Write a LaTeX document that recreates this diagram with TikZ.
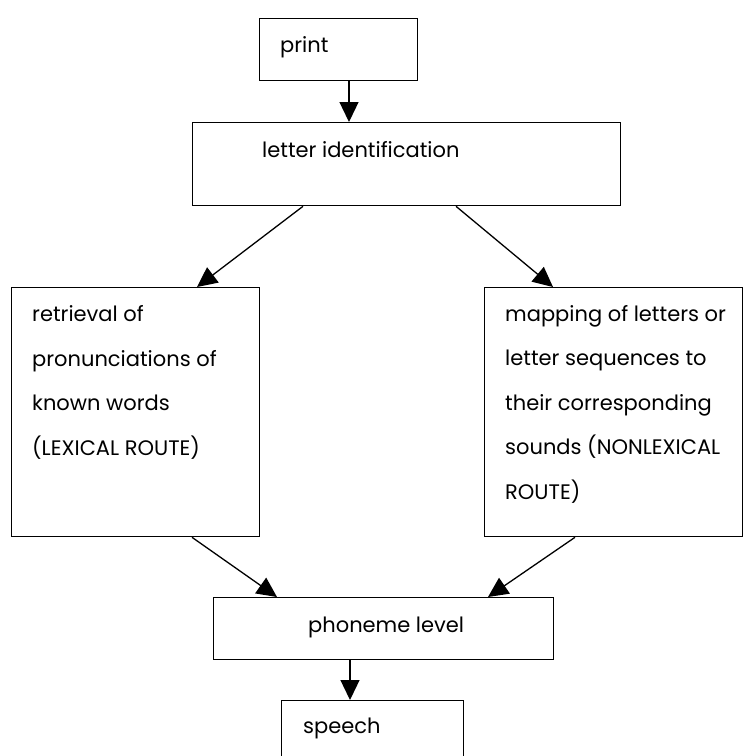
\documentclass[tikz,border=0pt]{standalone}
\usepackage{fontspec}
\setmainfont{Poppins}
\usetikzlibrary{arrows.meta}
\begin{document}
\begin{tikzpicture}[x=1pt,y=-1pt,
  box/.style={draw,line width=1.3pt,rectangle,inner sep=0pt,anchor=north west},
  lbl/.style={anchor=base west,inner sep=0pt,align=left,
    font=\fontsize{21}{44.5}\selectfont},
  flow/.style={line width=1.3pt,-{Triangle[length=20pt,width=19pt]}}]
\useasboundingbox (0,0) rectangle (744,756);

% boxes
\node[box,minimum width=158,minimum height=62]  (print)   at (259,18)  {};
\node[box,minimum width=428,minimum height=83]  (letter)  at (192,122) {};
\node[box,minimum width=248,minimum height=249] (lexical) at (11,287)  {};
\node[box,minimum width=258,minimum height=249] (nonlex)  at (484,287) {};
\node[box,minimum width=340,minimum height=62]  (phoneme) at (213,597) {};
\node[box,minimum width=182,minimum height=70]  (speech)  at (281,700) {};

% labels (multi-line labels are placed by the baseline of their last line)
\node[lbl] (tprint)   at (280,52)  {print};
\node[lbl] (tletter)  at (262,157) {letter identification};
\node[lbl] (tlexical) at (32,455)  {retrieval of\\pronunciations of\\known words\\(LEXICAL ROUTE)};
\node[lbl] (tnonlex)  at (505,499) {mapping of letters or\\letter sequences to\\their corresponding\\sounds (NONLEXICAL\\ROUTE)};
\node[lbl] (tphoneme) at (308,632) {phoneme level};
\node[lbl] (tspeech)  at (303,733) {speech};

% connectors
\draw[flow] ([xshift=90pt]print.south west) -- ([xshift=157pt]letter.north west);
\draw[flow] ([xshift=111pt]letter.south west) -- ([xshift=186pt]lexical.north west);
\draw[flow] ([xshift=264pt]letter.south west) -- ([xshift=69pt]nonlex.north west);
\draw[flow] ([xshift=181pt]lexical.south west) -- ([xshift=64pt]phoneme.north west);
\draw[flow] ([xshift=91pt]nonlex.south west) -- ([xshift=275pt]phoneme.north west);
\draw[flow] ([xshift=137pt]phoneme.south west) -- ([xshift=69pt]speech.north west);
\end{tikzpicture}
\end{document}
